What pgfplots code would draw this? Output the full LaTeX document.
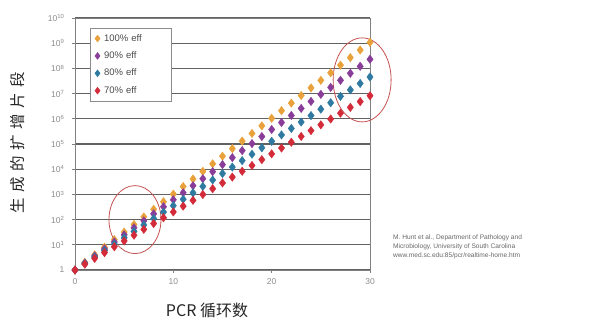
\documentclass[border=0pt]{standalone}
\usepackage{pgfplots}
\pgfplotsset{compat=1.18}
\usepackage{fontspec}
\setmainfont{Liberation Sans}
\newfontfamily\cjk{Noto Sans CJK SC}
\definecolor{c100}{HTML}{E9A23B}
\definecolor{c90}{HTML}{8A3D98}
\definecolor{c80}{HTML}{2F7AA0}
\definecolor{c70}{HTML}{D32B3A}
\definecolor{ell}{HTML}{C4504F}
\begin{document}
\begin{tikzpicture}
\useasboundingbox (0pt,0pt) rectangle (589pt,321pt);
\begin{axis}[
  at={(75pt,51pt)}, anchor=south west,
  scale only axis, width=295pt, height=252pt,
  ymode=log, xmin=0, xmax=30, ymin=1, ymax=1e10,
  xtick={0,10,20,30},
  ytick={1,1e1,1e2,1e3,1e4,1e5,1e6,1e7,1e8,1e9,1e10},
  yticklabels={1,10\textsuperscript{1},10\textsuperscript{2},10\textsuperscript{3},10\textsuperscript{4},10\textsuperscript{5},10\textsuperscript{6},10\textsuperscript{7},10\textsuperscript{8},10\textsuperscript{9},10\textsuperscript{10}},
  /pgf/number format/assume math mode=true,
  ticklabel style={font=\fontsize{8.5}{9}\selectfont, text=black!45},
  yticklabel style={xshift=-4pt},
  xticklabel style={yshift=-2pt},
  minor tick num=0, yminorticks=false,
  ymajorgrids, major grid style={black!62, line width=1.2pt},
  axis line style={black!50, line width=0.9pt},
  tick style={black!50, line width=0.8pt},
  major tick length=3pt,
  tick align=outside, xtick pos=bottom, ytick pos=left,
  clip=false,
  legend style={at={(0.05,0.96)}, anchor=north west, draw=black!45, line width=0.6pt,
    font=\fontsize{9.5}{10}\selectfont, text=black!70, row sep=5pt,
    inner xsep=5pt, inner ysep=4pt, legend cell align=left,
    nodes={inner xsep=4pt, text width=58pt}},
  legend image code/.code={\draw[#1, mark size=3.3pt] plot coordinates {(0.15cm,0cm)};},
  every axis plot/.append style={only marks, mark=diamond*, mark size=4.2pt, mark options={xscale=1.42}},
]
\addplot[color=c100, mark options={draw=c100, fill=c100}] coordinates {
(0,1)(1,2)(2,4)(3,8)(4,16)(5,32)(6,64)(7,128)(8,256)(9,512)(10,1024)
(11,2048)(12,4096)(13,8192)(14,16384)(15,32768)(16,65536)(17,131072)(18,262144)(19,524288)(20,1048576)
(21,2097152)(22,4194304)(23,8388608)(24,16777216)(25,33554432)(26,67108864)(27,134217728)(28,268435456)(29,536870912)(30,1073741824)};
\addlegendentry{100\% eff}
\addplot[color=c90, mark options={draw=c90, fill=c90}] coordinates {
(0,1)(1,1.9)(2,3.61)(3,6.859)(4,13.0321)(5,24.761)(6,47.046)(7,89.387)(8,169.84)(9,322.69)(10,613.11)
(11,1164.9)(12,2213.3)(13,4205.3)(14,7990.1)(15,15181)(16,28844)(17,54804)(18,104128)(19,197842)(20,375900)
(21,714209)(22,1356998)(23,2578296)(24,4898763)(25,9307650)(26,17684535)(27,33600617)(28,63841172)(29,121298227)(30,230466631)};
\addlegendentry{90\% eff}
\addplot[color=c80, mark options={draw=c80, fill=c80}] coordinates {
(0,1)(1,1.8)(2,3.24)(3,5.832)(4,10.498)(5,18.896)(6,34.012)(7,61.222)(8,110.2)(9,198.36)(10,357.05)
(11,642.68)(12,1156.8)(13,2082.3)(14,3748.1)(15,6746.6)(16,12144)(17,21859)(18,39346)(19,70824)(20,127482)
(21,229468)(22,413042)(23,743476)(24,1338257)(25,2408862)(26,4335952)(27,7804713)(28,14048484)(29,25287271)(30,45517088)};
\addlegendentry{80\% eff}
\addplot[color=c70, mark options={draw=c70, fill=c70}] coordinates {
(0,1)(1,1.7)(2,2.89)(3,4.913)(4,8.3521)(5,14.199)(6,24.138)(7,41.034)(8,69.758)(9,118.59)(10,201.6)
(11,342.72)(12,582.62)(13,990.46)(14,1683.8)(15,2862.4)(16,4866.1)(17,8272.4)(18,14063)(19,23907)(20,40642)
(21,69092)(22,117456)(23,199676)(24,339449)(25,577063)(26,981007)(27,1667712)(28,2835110)(29,4819688)(30,8193469)};
\addlegendentry{70\% eff}
\draw[ell, line width=0.8pt] (axis cs:6.1,100) ellipse [x radius=26pt, y radius=34pt];
\draw[ell, line width=0.8pt] (axis cs:29.2,3.5e7) ellipse [x radius=29pt, y radius=42pt];
\end{axis}
\node[font=\cjk\fontsize{16}{17}\selectfont, text=black!85] at (207pt,11pt) {PCR 循环数};
\node[font=\cjk\fontsize{15.5}{17}\selectfont, text=black!85, rotate=90] at (18pt,178pt)
  {生\hspace{5.5pt}成\hspace{5.5pt}的\hspace{5.5pt}扩\hspace{5.5pt}增\hspace{5.5pt}片\hspace{5.5pt}段};
\node[anchor=north west, align=left, font=\fontsize{6.6}{9}\selectfont, text=black!60, inner sep=0pt] at (393pt,86pt)
  {M. Hunt et al., Department of Pathology and\\Microbiology, University of South Carolina\\www.med.sc.edu:85/pcr/realtime-home.htm};
\end{tikzpicture}
\end{document}
